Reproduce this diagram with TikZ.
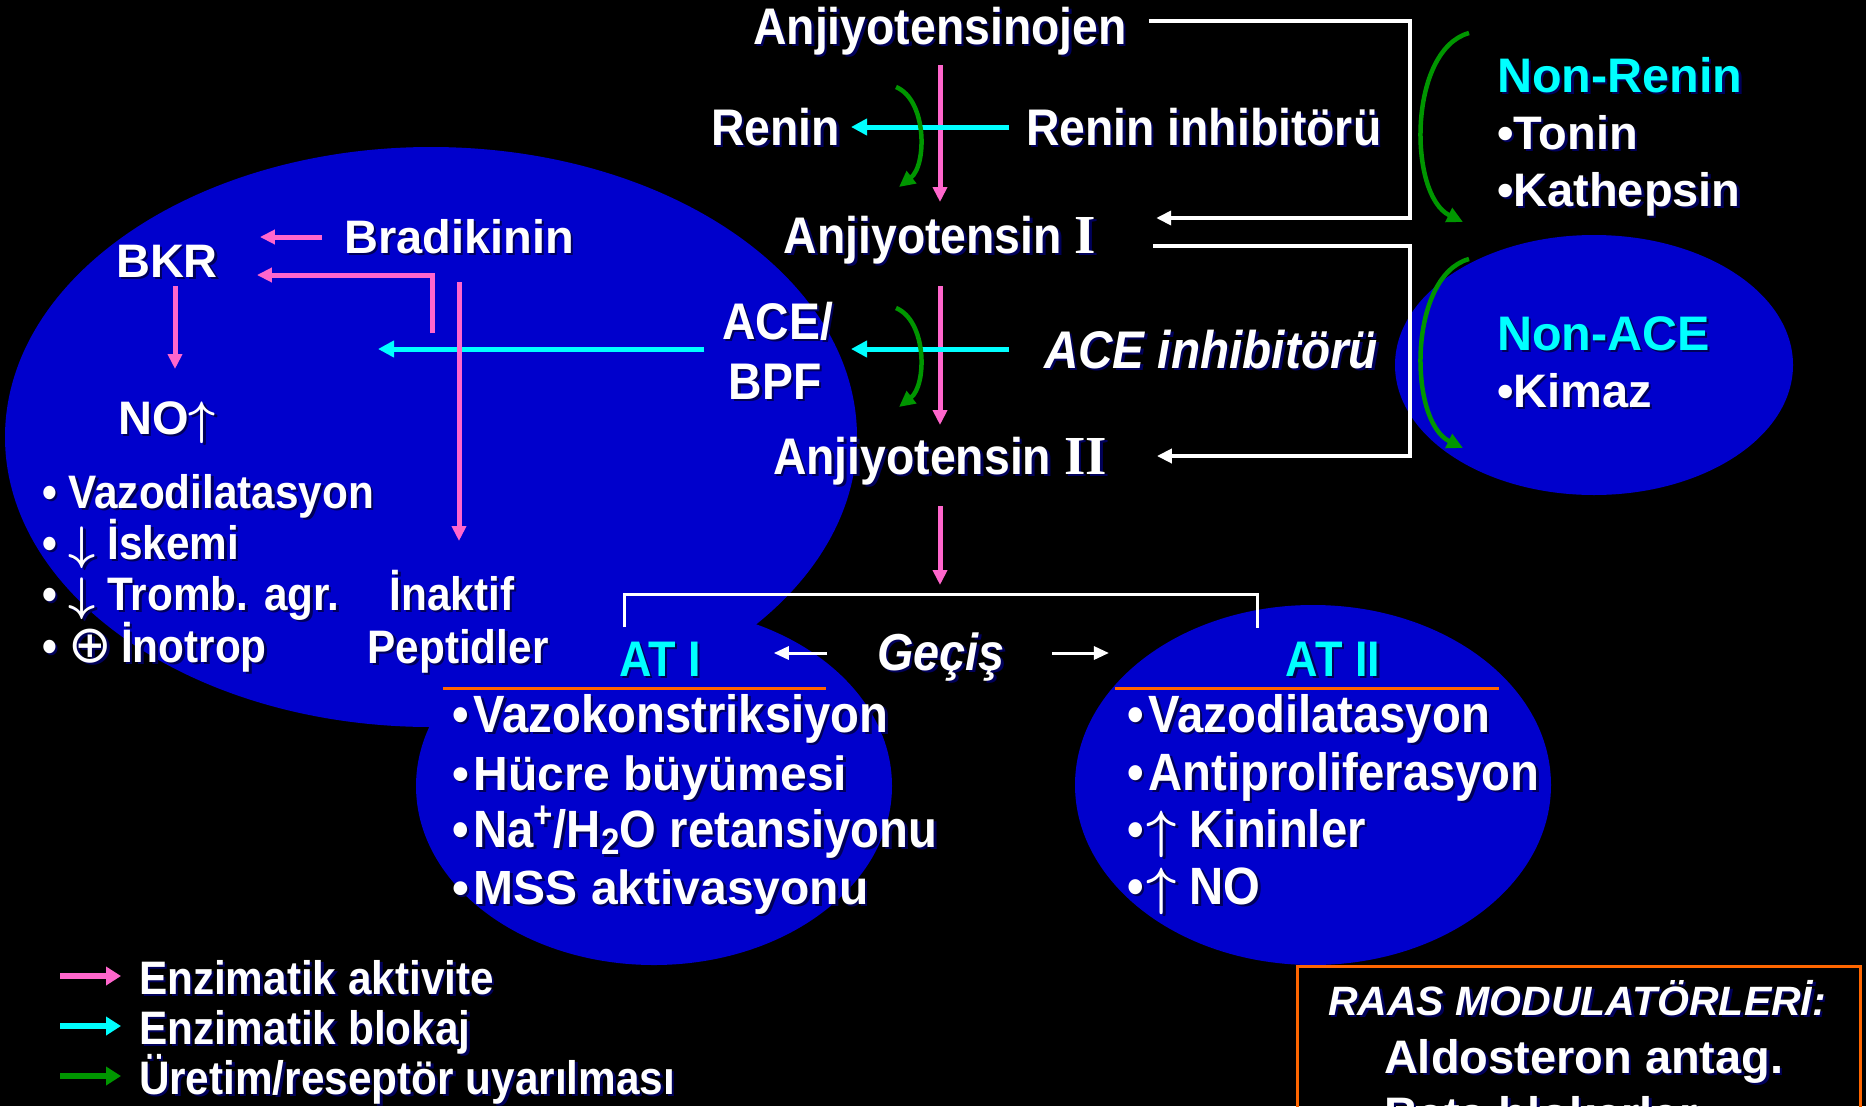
\RequirePackage{fix-cm}
\documentclass[tikz,border=0pt]{standalone}
\usepackage{fontspec}
\setmainfont{Liberation Sans}
\newfontfamily\narf{Liberation Sans}[FakeStretch=0.9]
\newfontfamily\myser{Liberation Serif}
\newfontfamily\djv{DejaVu Sans}
\usetikzlibrary{arrows.meta}
\definecolor{bgblue}{RGB}{0,0,204}
\definecolor{pk}{RGB}{255,102,204}
\definecolor{cy}{RGB}{0,255,255}
\definecolor{gr}{RGB}{0,150,0}
\definecolor{orng}{RGB}{255,102,0}
\definecolor{shad}{RGB}{0,0,90}
\newcommand\sh[1]{\leavevmode\rlap{\kern2.5pt\raisebox{-2.5pt}[0pt][0pt]{\color{shad}#1}}#1}
\newcommand\arrdn{{\boldmath$\downarrow$}}
\newcommand\arrup{{\boldmath$\uparrow$}}
\begin{document}
\begin{tikzpicture}[x=1pt,y=-1pt,
  every node/.style={inner sep=0pt, outer sep=0pt, text=white},
  nf/.style={font=\bfseries\fontsize{47}{56}\selectfont},
  tf/.style={font=\narf\bfseries\fontsize{51.5}{60}\selectfont},
  tfi/.style={font=\narf\bfseries\itshape\fontsize{53}{60}\selectfont},
  lf/.style={font=\narf\bfseries\fontsize{47}{56}\selectfont},
  af/.style={font=\narf\bfseries\fontsize{52.5}{62}\selectfont},
  atf/.style={font=\narf\bfseries\fontsize{50}{60}\selectfont, text=cy},
  pkarrow/.style={draw=pk, line width=5pt, -{Triangle[length=15pt,width=14pt]}},
  cyarrow/.style={draw=cy, line width=5pt, -{Triangle[length=16pt,width=16pt]}},
  grarrow/.style={draw=gr, line width=4.5pt, -{Triangle[length=16pt,width=15pt]}},
  wharrow/.style={draw=white, line width=4pt, line join=miter, -{Triangle[length=15pt,width=14pt]}},
  wline/.style={draw=white, line width=3pt, line join=miter},
  wthin/.style={draw=white, line width=3pt, -{Triangle[length=15pt,width=13pt]}},
  lgarrow/.style={line width=6pt, -{Triangle[length=15pt,width=18pt]}},
  uline/.style={draw=orng, line width=3pt}
]
\fill[black] (0,0) rectangle (1866,1106);
\useasboundingbox (0,0) rectangle (1866,1106);
\clip (0,0) rectangle (1866,1106);

% blue ellipses
\fill[bgblue] (431,437) ellipse [x radius=426pt, y radius=290pt];
\fill[bgblue] (654,786) ellipse [x radius=238pt, y radius=179pt];
\fill[bgblue] (1313,785) ellipse [x radius=238pt, y radius=180pt];
\fill[bgblue] (1594,365) ellipse [x radius=199pt, y radius=130pt];

% orange box and underlines
\draw[orng, line width=3pt] (1297,966) rectangle (1860,1200);
\draw[uline] (443,688) -- (826,688);
\draw[uline] (1115,688) -- (1499,688);

% central column
\node[tf, anchor=base] (ang) at (940,44) {\sh{Anjiyotensinojen}};
\node[tf, anchor=base east] (renin) at (840,145) {\sh{Renin}};
\node[tf, anchor=base west] (reninh) at (1026,145) {\sh{Renin inhibitörü}};
\node[tf, anchor=base] (ang1) at (940,253) {\sh{Anjiyotensin {\myser\fontsize{55}{60}\selectfont I}}};
\node[tf, anchor=base east] (ace) at (833,339) {\sh{ACE/}};
\node[tf, anchor=base] (bpf) at (775,399) {\sh{BPF}};
\node[tfi, anchor=base west] (aceinh) at (1044,368) {\sh{ACE inhibitörü}};
\node[tf, anchor=base] (ang2) at (940,474) {\sh{Anjiyotensin {\myser\fontsize{55}{60}\selectfont II}}};

% left ellipse
\node[nf, anchor=base] (bkr) at (167,277) {\sh{BKR}};
\node[nf, anchor=base] (brad) at (459,253) {\sh{Bradikinin}};
\node[nf, anchor=base] (no) at (167,434) {\sh{NO\arrup}};
\node[lf, anchor=base west] (l1) at (42,508) {\sh{• Vazodilatasyon}};
\node[lf, anchor=base west] (l2) at (42,559) {\sh{• \arrdn\ İskemi}};
\node[lf, anchor=base west] (l3) at (42,610) {\sh{• \arrdn\ Tromb. agr.}};
\node[lf, anchor=base west] (l4) at (42,662) {\sh{• {\djv\mdseries\fontsize{52}{52}\selectfont ⊕}\kern9pt İnotrop}};
\node[lf, anchor=base] (inak) at (452,610) {\sh{İnaktif}};
\node[lf, anchor=base] (pept) at (458,663) {\sh{Peptidler}};

% AT row
\node[atf, anchor=base] (at1) at (660,676) {\sh{AT I}};
\node[tfi, font=\narf\bfseries\itshape\fontsize{52}{60}\selectfont, anchor=base] (gec) at (941,670) {\sh{Geçiş}};
\node[atf, anchor=base] (at2) at (1333,676) {\sh{AT II}};

% AT I list
\node[af, anchor=base west] (a1) at (452,732) {\sh{•\kern5pt Vazokonstriksiyon}};
\node[nf, font=\bfseries\fontsize{48}{56}\selectfont, anchor=base west] (a2) at (452,790) {\sh{•\kern5pt Hücre büyümesi}};
\node[af, anchor=base west] (a3) at (452,847) {\sh{•\kern5pt Na\textsuperscript{+}/H\textsubscript{2}O retansiyonu}};
\node[nf, font=\bfseries\fontsize{48}{56}\selectfont, anchor=base west] (a4) at (452,904) {\sh{•\kern5pt MSS aktivasyonu}};

% AT II list
\node[af, anchor=base west] (b1) at (1127,732) {\sh{•\kern5pt Vazodilatasyon}};
\node[af, anchor=base west] (b2) at (1127,790) {\sh{•\kern5pt Antiproliferasyon}};
\node[af, anchor=base west] (b3) at (1127,847) {\sh{•\kern3pt\arrup\ Kininler}};
\node[af, anchor=base west] (b4) at (1127,904) {\sh{•\kern3pt\arrup\ NO}};

% right side
\node[nf, font=\bfseries\fontsize{48.5}{56}\selectfont, text=cy, anchor=base west] (nonren) at (1497,92) {\sh{Non-Renin}};
\node[nf, anchor=base west] (tonin) at (1497,149) {\sh{•Tonin}};
\node[nf, anchor=base west] (kath) at (1497,206) {\sh{•Kathepsin}};
\node[nf, font=\bfseries\fontsize{48.5}{56}\selectfont, text=cy, anchor=base west] (nonace) at (1497,350) {\sh{Non-ACE}};
\node[nf, anchor=base west] (kimaz) at (1497,407) {\sh{•Kimaz}};

% legend
\node[lf, anchor=base west] (lg1) at (139,994) {\sh{Enzimatik aktivite}};
\node[lf, anchor=base west] (lg2) at (139,1044) {\sh{Enzimatik blokaj}};
\node[lf, anchor=base west] (lg3) at (139,1094) {\sh{Üretim/reseptör uyarılması}};

% box text
\node[font=\bfseries\itshape\fontsize{41}{48}\selectfont, anchor=base] (raas) at (1577,1015) {\sh{RAAS MODULATÖRLERİ:}};
\node[nf, anchor=base west] (ald) at (1384,1073) {\sh{Aldosteron antag.}};
\node[nf, anchor=base west] (beta) at (1384,1130) {\sh{Beta blokerler}};

% coordinates
\coordinate (split) at (940,594);
\coordinate (blk) at (378,349);
\coordinate (elb) at (432,333);
\coordinate (rc1) at (1410,130);
\coordinate (rc2) at (1410,350);
\coordinate (g1a) at (896,87);
\coordinate (g1b) at (899,187);
\coordinate (g2a) at (896,308);
\coordinate (g2b) at (899,407);
\coordinate (g3a) at (1469,33);
\coordinate (g3b) at (1463,222);
\coordinate (g4a) at (1469,259);
\coordinate (g4b) at (1463,448);
\coordinate (inaktop) at ([yshift=69pt]inak.base);

% pink main arrows
\draw[pkarrow] ([yshift=-21pt]ang.base) -- ([yshift=51pt]ang1.base);
\draw[pkarrow] ([yshift=-33pt]ang1.base) -- ([yshift=49pt]ang2.base);
\draw[pkarrow] ([yshift=-32pt]ang2.base) -- ([yshift=9pt]split);
\draw[wline] ([xshift=-36pt,yshift=49pt]at1.base) |- (split) -| ([xshift=-76pt,yshift=48pt]at2.base);

% cyan blockers
\draw[cyarrow] ([xshift=-17pt,yshift=18pt]reninh.base west) -- ([xshift=11pt,yshift=18pt]renin.base east);
\draw[cyarrow] ([xshift=-35pt,yshift=19pt]aceinh.base west) -- ([xshift=18pt,yshift=-10pt]ace.base east);
\draw[cyarrow] ([xshift=-18pt,yshift=-10pt]ace.base west) -- (blk);

% green curves
\draw[grarrow] (g1a) .. controls (927,100) and (927,165) .. (g1b);
\draw[grarrow] (g2a) .. controls (927,321) and (927,385) .. (g2b);
\draw[grarrow] (g3a) .. controls (1408,50) and (1408,195) .. (g3b);
\draw[grarrow] (g4a) .. controls (1408,276) and (1408,421) .. (g4b);

% white brackets
\draw[wharrow] ([xshift=22pt,yshift=23pt]ang.base east) -| (rc1) |- ([xshift=60pt,yshift=35pt]ang1.base east);
\draw[wharrow] ([xshift=57pt,yshift=7pt]ang1.base east) -| (rc2) |- ([xshift=50pt,yshift=18pt]ang2.base east);

% bradykinin arrows
\draw[pkarrow] ([xshift=-22pt,yshift=16pt]brad.base west) -- ([xshift=42pt,yshift=40pt]bkr.base east);
\draw[pkarrow, line join=miter] (elb) |- ([xshift=39pt,yshift=2pt]bkr.base east);
\draw[pkarrow] ([yshift=-29pt]brad.base) -- (brad.base |- inaktop);
\draw[pkarrow] ([xshift=8pt,yshift=-9pt]bkr.base) -- ([xshift=8pt,yshift=65pt]no.base);

% Gecis arrows
\draw[wthin] ([xshift=-50pt,yshift=17pt]gec.base west) -- ([xshift=73pt,yshift=23pt]at1.base east);
\draw[wthin] ([xshift=47pt,yshift=17pt]gec.base east) -- ([xshift=-177pt,yshift=23pt]at2.base west);

% legend arrows
\draw[lgarrow, draw=pk] ([xshift=-79pt,yshift=18pt]lg1.base west) -- ([xshift=-18pt,yshift=18pt]lg1.base west);
\draw[lgarrow, draw=cy] ([xshift=-79pt,yshift=18pt]lg2.base west) -- ([xshift=-18pt,yshift=18pt]lg2.base west);
\draw[lgarrow, draw=gr] ([xshift=-79pt,yshift=18pt]lg3.base west) -- ([xshift=-18pt,yshift=18pt]lg3.base west);
\end{tikzpicture}
\end{document}
